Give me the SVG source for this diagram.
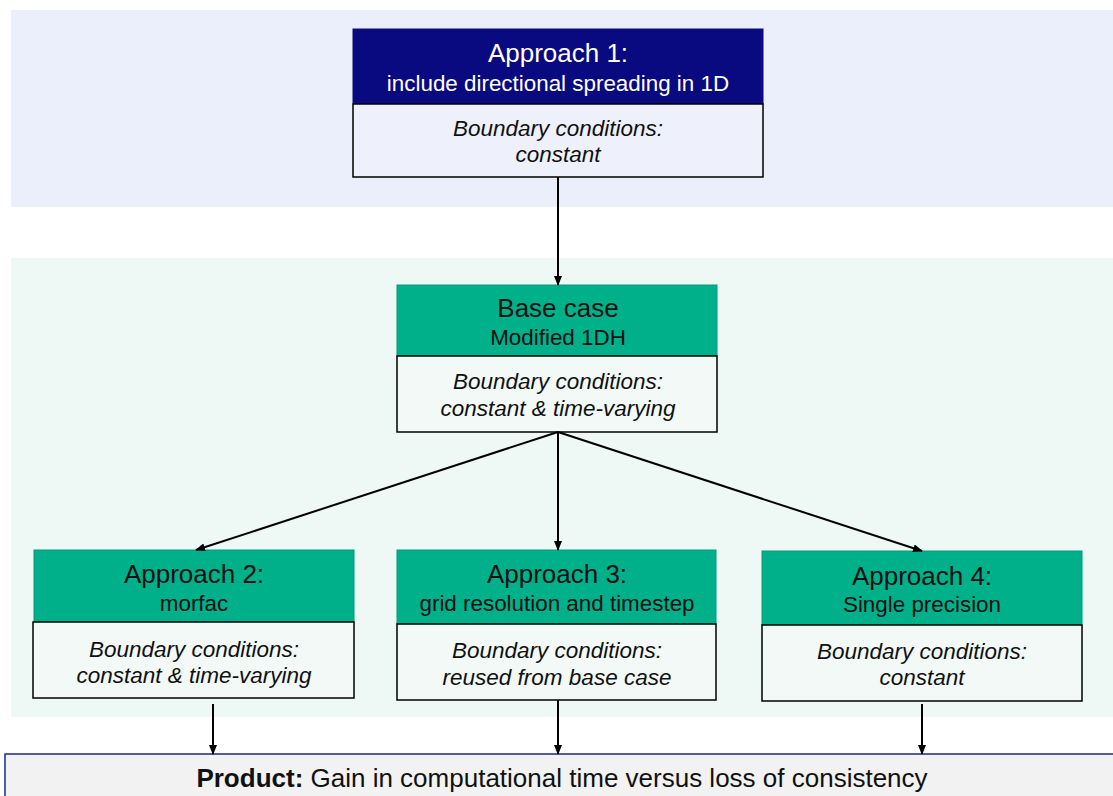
<svg xmlns="http://www.w3.org/2000/svg" width="1113" height="796" viewBox="0 0 1113 796">
<defs>
<marker id="ah" markerWidth="10" markerHeight="8" refX="9" refY="4" orient="auto" markerUnits="userSpaceOnUse">
<path d="M0,0 L10,4 L0,8 Z" fill="#000"/>
</marker>
<style>
.t{font-family:"Liberation Sans",Arial,sans-serif;text-anchor:middle}
.h1{font-size:26px}
.h2{font-size:22.4px}
.it{font-size:22.5px;font-style:italic}
.navy{fill:#0a0a80;stroke:#0a0a80}
.green{fill:#00b08a;stroke:#009c78;stroke-width:1}
.body{stroke:#000;stroke-width:1.5}
.c line{stroke:#000;stroke-width:2;marker-end:url(#ah)}
</style>
</defs>
<rect x="0" y="0" width="1113" height="796" fill="#fff"/>
<rect x="11" y="10" width="1102" height="197" fill="#ebeffb"/>
<rect x="11" y="258" width="1102" height="459" fill="#eef8f5"/>

<g id="approach1">
<rect x="353" y="29" width="410" height="75" class="navy"/>
<rect x="353" y="104" width="410" height="73" fill="#eef0fb" class="body"/>
<text x="558" y="62" class="t h1" fill="#fff">Approach 1:</text>
<text x="558" y="91" class="t h2" fill="#fff">include directional spreading in 1D</text>
<text x="558" y="136" class="t it" fill="#111">Boundary conditions:</text>
<text x="558" y="162" class="t it" fill="#111">constant</text>
</g>

<g id="basecase">
<rect x="397" y="285" width="320" height="71" class="green"/>
<rect x="397" y="356" width="320" height="76" fill="#f2f9f7" class="body"/>
<text x="558" y="317" class="t h1" fill="#111">Base case</text>
<text x="558" y="345" class="t h2" fill="#111">Modified 1DH</text>
<text x="558" y="389" class="t it" fill="#111">Boundary conditions:</text>
<text x="558" y="416" class="t it" fill="#111">constant &amp; time-varying</text>
</g>

<g id="approach2">
<rect x="34" y="550" width="320" height="72" class="green"/>
<rect x="33" y="622" width="321" height="76" fill="#f2f9f7" class="body"/>
<text x="194" y="583" class="t h1" fill="#111">Approach 2:</text>
<text x="194" y="611" class="t h2" fill="#111">morfac</text>
<text x="194" y="657" class="t it" fill="#111">Boundary conditions:</text>
<text x="194" y="683" class="t it" fill="#111">constant &amp; time-varying</text>
</g>

<g id="approach3">
<rect x="397" y="550" width="319" height="74" class="green"/>
<rect x="397" y="624" width="319" height="76" fill="#f2f9f7" class="body"/>
<text x="557" y="583" class="t h1" fill="#111">Approach 3:</text>
<text x="557" y="611" class="t h2" fill="#111">grid resolution and timestep</text>
<text x="557" y="658" class="t it" fill="#111">Boundary conditions:</text>
<text x="557" y="685" class="t it" fill="#111">reused from base case</text>
</g>

<g id="approach4">
<rect x="762" y="551" width="320" height="74" class="green"/>
<rect x="762" y="625" width="320" height="76" fill="#f2f9f7" class="body"/>
<text x="922" y="585" class="t h1" fill="#111">Approach 4:</text>
<text x="922" y="612" class="t h2" fill="#111">Single precision</text>
<text x="922" y="659" class="t it" fill="#111">Boundary conditions:</text>
<text x="922" y="685" class="t it" fill="#111">constant</text>
</g>

<g id="product">
<rect x="5" y="754" width="1120" height="60" fill="#f2f2f2" stroke="#1a2a8a" stroke-width="1.5"/>
<text x="562" y="787" class="t" font-size="26px" fill="#111"><tspan font-weight="bold">Product:</tspan> Gain in computational time versus loss of consistency</text>
</g>

<g class="c" id="connectors">
<line x1="558" y1="177" x2="558" y2="285"/>
<line x1="558" y1="432" x2="196" y2="550"/>
<line x1="558" y1="432" x2="558" y2="550"/>
<line x1="558" y1="432" x2="922" y2="551"/>
<line x1="213" y1="704" x2="213" y2="754"/>
<line x1="558" y1="700" x2="558" y2="754"/>
<line x1="922" y1="704" x2="922" y2="754"/>
</g>
</svg>
